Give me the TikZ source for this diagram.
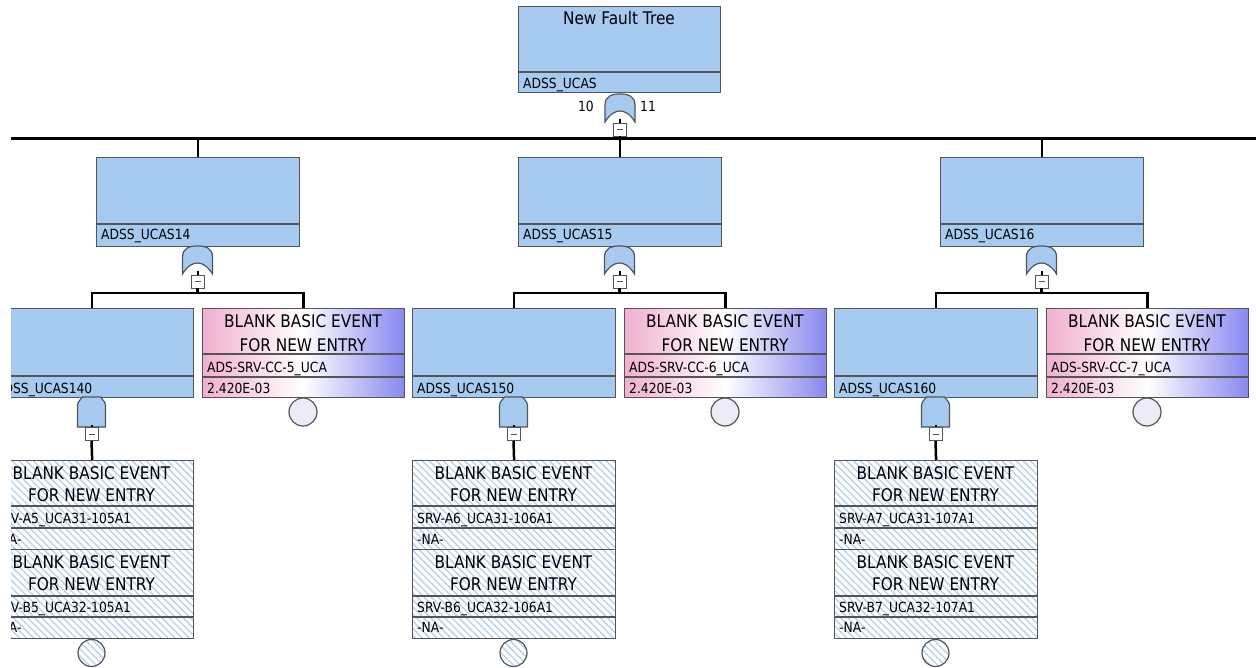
\documentclass[tikz,border=0pt]{standalone}
\usepackage{fontspec}
\setmainfont{DejaVu Sans}[FakeStretch=0.88]
\usetikzlibrary{patterns.meta}
\definecolor{ftblue}{RGB}{166,202,240}
\definecolor{ftgray}{RGB}{85,85,85}
\definecolor{evpink}{RGB}{240,176,208}
\definecolor{evblue}{RGB}{135,135,240}
\definecolor{hatchblue}{RGB}{182,206,240}
\definecolor{circfill}{RGB}{236,236,248}
\tikzset{
  ftline/.style={draw=ftgray, line width=1.2pt},
  gbox/.style={ftline, fill=ftblue, anchor=north west, inner sep=0pt, minimum width=203pt, minimum height=89pt},
  ebox/.style={ftline, left color=evpink, right color=evblue, middle color=white, anchor=north west, inner sep=0pt, minimum width=202pt, minimum height=89pt},
  hbox/.style={ftline, pattern={Lines[angle=-45,distance=5pt,line width=1.3pt]}, pattern color=hatchblue, anchor=north west, inner sep=0pt, minimum width=203pt, minimum height=89pt},
  bigtxt/.style={font=\fontsize{17.4}{20}\selectfont, inner sep=0pt, text height=12.7pt, text depth=0pt, text=black},
  smalltxt/.style={font=\fontsize{14}{16}\selectfont, inner sep=0pt, text height=10.2pt, text depth=0pt, anchor=west, text=black},
  conn/.style={line width=2.5pt, black},
  minusbox/.style={draw=ftgray, fill=white, line width=0.8pt, minimum size=13pt, inner sep=0pt,
    path picture={\draw[line width=0.9pt, ftgray] ([xshift=-3pt]path picture bounding box.center) -- ([xshift=3pt]path picture bounding box.center);}},
  evcirc/.style={circle, ftline, fill=circfill, minimum size=28pt, inner sep=0pt},
  hcirc/.style={circle, ftline, pattern={Lines[angle=-45,distance=5pt,line width=1.3pt]}, pattern color=hatchblue, minimum size=27pt, inner sep=0pt},
  orgate/.pic={
    \filldraw[ftline, fill=ftblue] (-15,28) -- (-15,11) .. controls (-15,2) and (-8,0) .. (0,0)
      .. controls (8,0) and (15,2) .. (15,11) -- (15,28) .. controls (10,20) and (5,17) .. (0,17)
      .. controls (-5,17) and (-10,20) .. (-15,28) -- cycle;
    \coordinate (-bot) at (0,25);},
  andgate/.pic={
    \filldraw[ftline, fill=ftblue] (-14,30) -- (-14,9) .. controls (-14,6) .. (-9,0) -- (9,0)
      .. controls (14,6) .. (14,9) -- (14,30) -- cycle;
    \coordinate (-bot) at (0,28);}
}
\begin{document}
\begin{tikzpicture}[x=1pt, y=-1pt]
\useasboundingbox (0,0) rectangle (1256,668);
\fill[white] (0,0) rectangle (1256,668);
\clip (11,0) rectangle (1256,668);
% top event
\node[gbox, minimum height=86pt, minimum width=202pt] (top) at (518,6) {};
\draw[ftline] (518,72) -- (720,72);
\node[bigtxt] (toptxt) at (619,18) {New Fault Tree};
\node[smalltxt] (toplbl) at (523,83.5) {ADSS\_UCAS};
\pic (g0) at (620,94) {orgate};
\node[minusbox] (m0) at (620,129.5) {};
\draw[line width=2pt] (g0-bot) -- (m0.north);
\node[smalltxt, anchor=east] (n10) at (594,106) {10};
\node[smalltxt] (n11) at (640,106) {11};
\coordinate (busL) at (11,139);
\coordinate (busR) at (1256,139);
\draw[line width=3pt] (busL) -- (busR);
\draw[conn] (m0.south) -- (m0.south |- busL);
\foreach \d/\a/\n/\k in {0/14/5/105, 422/15/6/106, 844/16/7/107}{
  % level 2
  \node[gbox] (b\a) at (96+\d,157) {};
  \draw[ftline] (96+\d,224) -- (299+\d,224);
  \node[smalltxt] (lb\a) at (101+\d,234) {ADSS\_UCAS\a};
  \draw[conn] (b\a.north |- busL) -- (b\a.north);
  \pic (g\a) at (197.5+\d,246) {orgate};
  \node[minusbox] (m\a) at (197.5+\d,281.5) {};
  \draw[line width=2pt] (g\a-bot) -- (m\a.north);
  % level 3 gate
  \node[gbox] (b\a0) at (-10+\d,308) {};
  \draw[ftline] (-10+\d,376) -- (193+\d,376);
  \node[smalltxt] (lb\a0) at (-5+\d,388) {ADSS\_UCAS\a0};
  % basic event
  \node[ebox] (e\n) at (202+\d,308) {};
  \draw[ftline] (202+\d,354) -- (404+\d,354) (202+\d,377) -- (404+\d,377);
  \node[bigtxt] (et1\n) at (303+\d,321.5) {BLANK BASIC EVENT};
  \node[bigtxt] (et2\n) at (303+\d,345) {FOR NEW ENTRY};
  \node[smalltxt] (et3\n) at (207+\d,367) {ADS-SRV-CC-\n\_UCA};
  \node[smalltxt] (et4\n) at (207+\d,388) {2.420E-03};
  \node[evcirc] (ec\n) at (303+\d,412) {};
  % connectors level 2 -> 3
  \coordinate (j\a) at (197.5+\d,293);
  \draw[conn] (m\a.south) -- (j\a);
  \draw[conn] (b\a0.north) |- (j\a) -| (e\n.north);
  % and gate
  \pic (ga\a) at (91.5+\d,397) {andgate};
  \node[minusbox] (mm\a) at (91.5+\d,434) {};
  \draw[line width=2pt] (ga\a-bot) -- (mm\a.north);
  % hatched events
  \node[hbox] (ha\a) at (-10+\d,460) {};
  \node[hbox] (hb\a) at (-10+\d,549) {};
  \draw[ftline] (-10+\d,506) -- (193+\d,506) (-10+\d,528) -- (193+\d,528)
                (-10+\d,596) -- (193+\d,596) (-10+\d,617) -- (193+\d,617);
  \draw[conn] (mm\a.south) -- (ha\a.north);
  \node[bigtxt] (ha1\a) at (91.5+\d,473.5) {BLANK BASIC EVENT};
  \node[bigtxt] (ha2\a) at (91.5+\d,495.5) {FOR NEW ENTRY};
  \node[smalltxt] (ha3\a) at (-5+\d,518) {SRV-A\n\_UCA31-\k A1};
  \node[smalltxt] (ha4\a) at (-5+\d,539) {-NA-};
  \node[bigtxt] (hb1\a) at (91.5+\d,562) {BLANK BASIC EVENT};
  \node[bigtxt] (hb2\a) at (91.5+\d,584.5) {FOR NEW ENTRY};
  \node[smalltxt] (hb3\a) at (-5+\d,607.5) {SRV-B\n\_UCA32-\k A1};
  \node[smalltxt] (hb4\a) at (-5+\d,627.5) {-NA-};
  \node[hcirc] (hc\a) at (91.5+\d,653) {};
}
\end{tikzpicture}
\end{document}
